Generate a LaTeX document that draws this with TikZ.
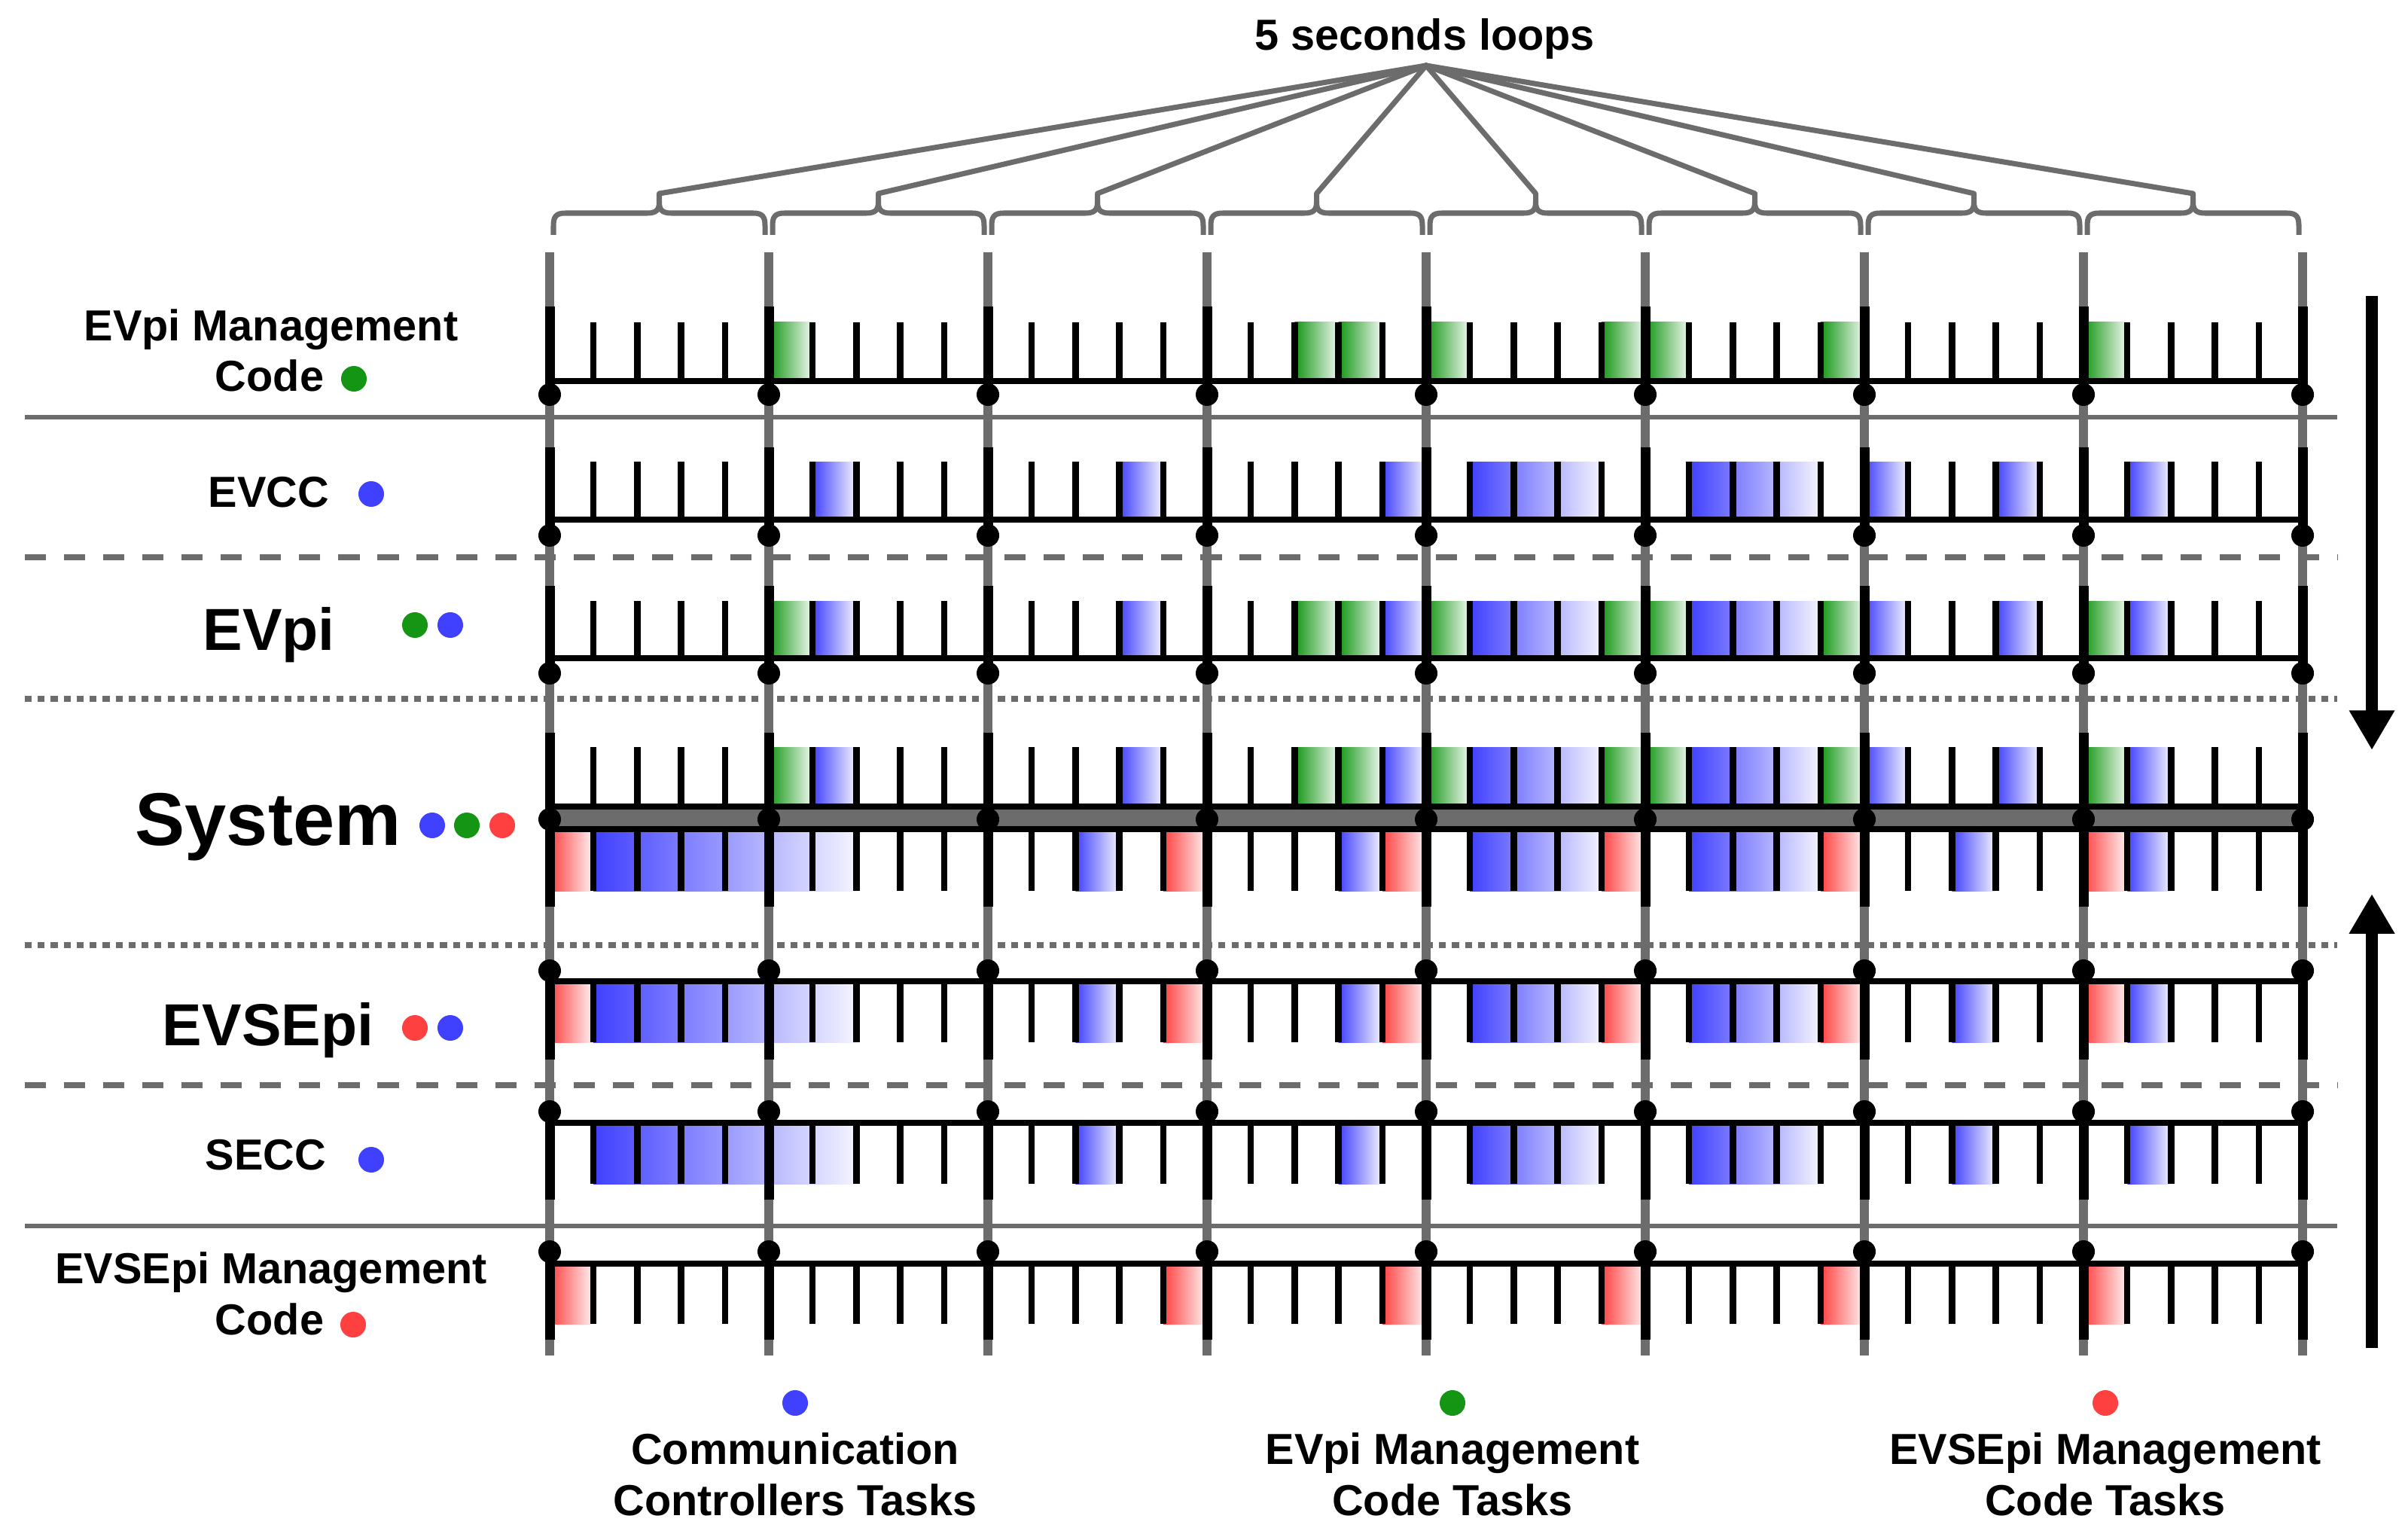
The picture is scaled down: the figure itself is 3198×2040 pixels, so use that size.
\documentclass[tikz,border=0pt]{standalone}
\usepackage{fontspec}
\setmainfont{Liberation Sans}
\usetikzlibrary{arrows.meta}
\definecolor{cgray}{RGB}{108,108,108}
\definecolor{cblue}{RGB}{64,64,255}
\definecolor{cgreen}{RGB}{20,150,20}
\definecolor{cred}{RGB}{255,64,64}
\newcommand\taskbox[5]{%
  \pgfmathsetmacro\xa{730+#1*58.2}%
  \pgfmathsetmacro\xb{730+(#1+#2)*58.2}%
  \shade[left color=#3, right color=#3!6!white] (\xa,#4) rectangle (\xb,#5);}
\def\Glist{5/1,17/1,18/1,20/1,24/1,25/1,29/1,35/1}
\def\Clist{6/1,13/1,19/1,21/3,26/3,30/1,33/1,36/1}
\def\Rlist{0/1,14/1,19/1,24/1,29/1,35/1}
\def\Slist{1/6,12/1,18/1,21/3,26/3,32/1,36/1}
\begin{document}
\begin{tikzpicture}[x=0.01cm,y=-0.01cm,
  majorln/.style={line width=3.7pt, black},
  graymaj/.style={line width=3.4pt, cgray},
  minortick/.style={line width=2.4pt, black},
  baseln/.style={line width=2.3pt, black},
  sepsolid/.style={cgray, line width=1.7pt},
  sepdash/.style={cgray, line width=2.3pt, dash pattern=on 8pt off 6.8pt},
  sepdot/.style={cgray, line width=2.3pt, dash pattern=on 2.6pt off 2.3pt},
  bracestyle/.style={cgray, line width=2pt, line join=round},
  apexln/.style={cgray, line width=2pt, line cap=round},
  lbl/.style={font=\fontsize{16.4}{19}\selectfont\bfseries, inner sep=0pt, anchor=base},
  biglbl/.style={font=\fontsize{22.4}{26}\selectfont\bfseries, inner sep=0pt, anchor=base},
  hugelbl/.style={font=\fontsize{28.2}{32}\selectfont\bfseries, inner sep=0pt, anchor=base},
  bigarrow/.style={line width=4.3pt, black, -{Triangle[width=16.2pt,length=15pt]}}
]
\useasboundingbox (0,0) rectangle (3198,2040);

% title and braces
\node[lbl] (title) at (1892,67) {5 seconds loops};
\coordinate (apex) at (1894,87);
\foreach \k in {0,...,7}{
  \pgfmathsetmacro\a{730+\k*291+5}
  \pgfmathsetmacro\b{730+(\k+1)*291-5}
  \pgfmathsetmacro\m{730+\k*291+145.5}
  \coordinate (tip\k) at (\m,257);
  \draw[bracestyle] (\a,312) -- (\a,300) .. controls (\a,288) and (\a+3,283) .. (\a+16,283) -- (\m-16,283) .. controls (\m-3,283) and (\m,278) .. (\m,268) -- (tip\k);
  \draw[bracestyle] (\m,268) .. controls (\m,278) and (\m+3,283) .. (\m+16,283) -- (\b-16,283) .. controls (\b-3,283) and (\b,288) .. (\b,300) -- (\b,312);
  \draw[apexln] (apex) -- (tip\k);
}

% gray vertical lines
\foreach \k in {0,...,8}{
  \draw[graymaj] ({730+\k*291},335) -- ({730+\k*291},1800);
}

% separators
\draw[sepsolid] (33,554) -- (3104,554);
\draw[sepsolid] (33,1628) -- (3104,1628);
\draw[sepdash] (33,740) -- (3104,740);
\draw[sepdash] (33,1441) -- (3104,1441);
\draw[sepdot] (33,928) -- (3104,928);
\draw[sepdot] (33,1255) -- (3104,1255);

% task boxes
\foreach \s/\n in \Glist {\taskbox{\s}{\n}{cgreen}{428}{503}}
\foreach \s/\n in \Clist {\taskbox{\s}{\n}{cblue}{613}{687}}
\foreach \s/\n in \Glist {\taskbox{\s}{\n}{cgreen}{798}{871}}
\foreach \s/\n in \Clist {\taskbox{\s}{\n}{cblue}{798}{871}}
\foreach \s/\n in \Glist {\taskbox{\s}{\n}{cgreen}{992}{1068}}
\foreach \s/\n in \Clist {\taskbox{\s}{\n}{cblue}{992}{1068}}
\foreach \s/\n in \Rlist {\taskbox{\s}{\n}{cred}{1104}{1183}}
\foreach \s/\n in \Slist {\taskbox{\s}{\n}{cblue}{1104}{1183}}
\foreach \s/\n in \Rlist {\taskbox{\s}{\n}{cred}{1306}{1384}}
\foreach \s/\n in \Slist {\taskbox{\s}{\n}{cblue}{1306}{1384}}
\foreach \s/\n in \Slist {\taskbox{\s}{\n}{cblue}{1494}{1572}}
\foreach \s/\n in \Rlist {\taskbox{\s}{\n}{cred}{1681}{1758}}

% minor ticks
\foreach \s in {1,...,39}{
  \pgfmathtruncatemacro\md{mod(\s,5)}
  \ifnum\md>0
    \pgfmathsetmacro\xx{730+\s*58.2}
    \draw[minortick] (\xx,428) -- (\xx,506) (\xx,613) -- (\xx,690) (\xx,798) -- (\xx,874)
      (\xx,992) -- (\xx,1071) (\xx,1101) -- (\xx,1183)
      (\xx,1303) -- (\xx,1384) (\xx,1491) -- (\xx,1572) (\xx,1678) -- (\xx,1758);
  \fi
}

% baselines and system bar
\foreach \y in {506,690,874,1303,1491,1678}{
  \draw[baseln] (730,\y) -- (3058,\y);
}
\draw[black, fill=cgray, line width=2.3pt] (730,1071) rectangle (3058,1101);

% black major segments and dots
\foreach \k in {0,...,8}{
  \pgfmathsetmacro\xx{730+\k*291}
  \draw[majorln] (\xx,407) -- (\xx,524) (\xx,594) -- (\xx,711) (\xx,778) -- (\xx,894)
    (\xx,973) -- (\xx,1204) (\xx,1289) -- (\xx,1407) (\xx,1476) -- (\xx,1593) (\xx,1662) -- (\xx,1779);
  \foreach \y in {524,711,894,1088,1289,1476,1662}{
    \fill[black] (\xx,\y) circle[radius=0.15cm];
  }
}

% left labels
\node[lbl] (l1a) at (360,453) {EVpi Management};
\node[lbl] (l1b) at (358,520) {Code};
\fill[cgreen] (470,503) circle[radius=0.17cm];
\node[lbl] (l2) at (357,673) {EVCC};
\fill[cblue] (493,656) circle[radius=0.17cm];
\node[biglbl] (l3) at (357,863) {EVpi};
\fill[cgreen] (551,830) circle[radius=0.17cm];
\fill[cblue] (598,830) circle[radius=0.17cm];
\node[hugelbl] (l4) at (356,1122) {System};
\fill[cblue] (574,1096) circle[radius=0.17cm];
\fill[cgreen] (620,1096) circle[radius=0.17cm];
\fill[cred] (667,1096) circle[radius=0.17cm];
\node[biglbl] (l5) at (356,1388) {EVSEpi};
\fill[cred] (551,1365) circle[radius=0.17cm];
\fill[cblue] (598,1365) circle[radius=0.17cm];
\node[lbl] (l6) at (353,1553) {SECC};
\fill[cblue] (493,1540) circle[radius=0.17cm];
\node[lbl] (l7a) at (360,1704) {EVSEpi Management};
\node[lbl] (l7b) at (358,1772) {Code};
\fill[cred] (469,1759) circle[radius=0.17cm];

% legend
\fill[cblue] (1056,1863) circle[radius=0.17cm];
\node[lbl] (g1a) at (1056,1944) {Communication};
\node[lbl] (g1b) at (1056,2012) {Controllers Tasks};
\fill[cgreen] (1929,1863) circle[radius=0.17cm];
\node[lbl] (g2a) at (1929,1944) {EVpi Management};
\node[lbl] (g2b) at (1929,2012) {Code Tasks};
\fill[cred] (2796,1863) circle[radius=0.17cm];
\node[lbl] (g3a) at (2796,1944) {EVSEpi Management};
\node[lbl] (g3b) at (2796,2012) {Code Tasks};

% arrows
\coordinate (dA) at (3150,393);
\coordinate (dB) at (3150,996);
\coordinate (uA) at (3150,1790);
\coordinate (uB) at (3150,1187);
\draw[bigarrow] (dA) -- (dB);
\draw[bigarrow] (uA) -- (uB);
\end{tikzpicture}
\end{document}
